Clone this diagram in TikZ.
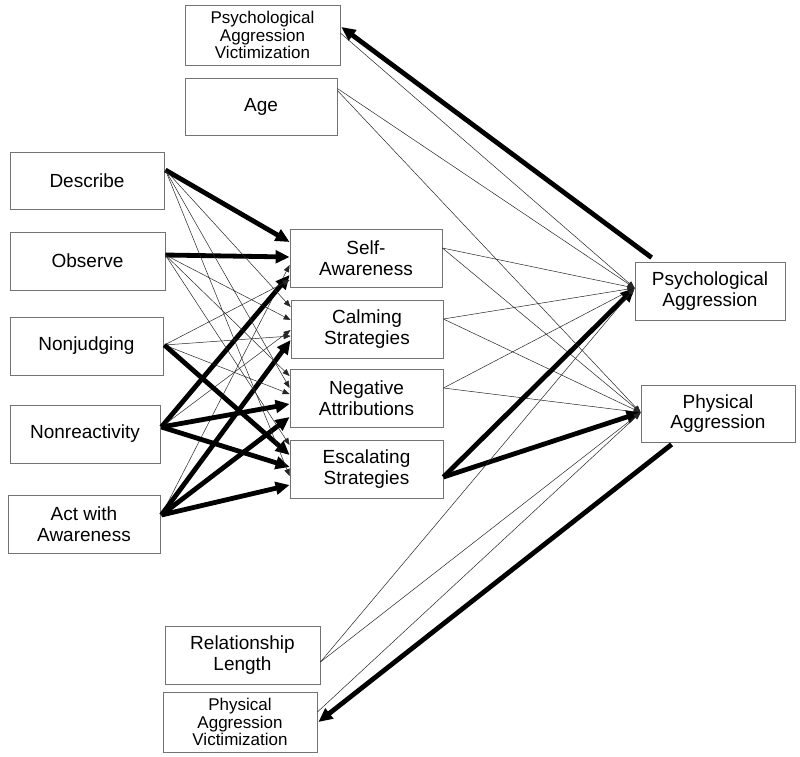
\documentclass[tikz,border=0pt]{standalone}
\usepackage{fontspec}
\setmainfont{Liberation Sans}
\usetikzlibrary{arrows.meta,calc}
\begin{document}
\begin{tikzpicture}[x=1pt,y=-1pt,
  bx/.style 2 args={draw=black!55, line width=0.8pt, fill=white, inner sep=0pt, align=center,
     minimum width=#1pt, minimum height=#2pt, font=\fontsize{19}{20.5}\selectfont},
  sm/.style={font=\fontsize{17}{17.8}\selectfont},
  thick path/.style={line width=4.8pt, -{Triangle[length=14pt,width=12.5pt]}},
  thin path/.style={line width=0.5pt, draw=black!85, -{Triangle[length=7pt,width=5.5pt]}}]
\useasboundingbox (0,0) rectangle (800,756);
\fill[white] (0,0) rectangle (800,756);
% nodes
\node[bx={155}{60}, sm] (PAVt) at (262.5,35) {Psychological\\Aggression\\Victimization};
\node[bx={152}{57}] (Age) at (261,106.5) {Age};
\node[bx={154}{57}] (Desc) at (87,180.5) {Describe};
\node[bx={155}{58}] (Obs) at (87.5,261) {Observe};
\node[bx={153}{58}] (NJ) at (86.5,346) {Nonjudging};
\node[bx={150}{58}] (NR) at (85,434) {Nonreactivity};
\node[bx={152}{58}] (Act) at (84,524) {Act with\\Awareness};
\node[bx={152}{58}] (SA) at (366,258) {Self-\\Awareness};
\node[bx={152}{58}] (Calm) at (367,329) {Calming\\Strategies};
\node[bx={153}{58}] (Neg) at (366.5,398) {Negative\\Attributions};
\node[bx={153}{58}] (Esc) at (366.5,469) {Escalating\\Strategies};
\node[bx={150}{58}] (PsyA) at (710,291) {Psychological\\Aggression};
\node[bx={154}{57}] (PhyA) at (718,413.5) {Physical\\Aggression};
\node[bx={155}{58}] (Rel) at (242.5,655) {Relationship\\Length};
\node[bx={154}{60}, sm] (PAVb) at (240,722) {Physical\\Aggression\\Victimization};
% ports
\coordinate (pD) at ($(Desc.east)+(1,-10.5)$);
\coordinate (pO) at ($(Obs.east)+(0,-6)$);
\coordinate (pJ) at ($(NJ.east)+(1,-1)$);
\coordinate (pR) at ($(NR.east)+(1,-7)$);
\coordinate (pA) at ($(Act.east)+(1,-9)$);
\coordinate (oSA) at ($(SA.east)+(0,-10)$);
\coordinate (oCalm) at ($(Calm.east)+(0,-10)$);
\coordinate (oNeg) at ($(Neg.east)+(0,-10)$);
\coordinate (oEsc) at ($(Esc.east)+(0,8)$);
\coordinate (iPsy) at ($(PsyA.west)+(0,-3)$);
\coordinate (iPhy) at ($(PhyA.west)+(0,-1)$);
% facets -> mediators
\draw[thick path] (pD) -- ($(SA.west)+(0,-16)$);
\draw[thick path] (pO) -- ($(SA.west)+(0,-1)$);
\draw[thin path] (pA) -- ($(SA.west)+(0,7)$);
\draw[thick path] (pR) -- ($(SA.west)+(0,17)$);
\draw[thin path] (pJ) -- ($(SA.west)+(0,22)$);
\draw[thin path] (pD) -- ($(Calm.west)+(0,-22)$);
\draw[thin path] (pO) -- ($(Calm.west)+(0,-9)$);
\draw[thin path] (pR) -- ($(Calm.west)+(0,1)$);
\draw[thin path] (pJ) -- ($(Calm.west)+(0,7)$);
\draw[thick path] (pA) -- ($(Calm.west)+(0,11)$);
\draw[thin path] (pO) -- ($(Neg.west)+(0,-22)$);
\draw[thin path] (pD) -- ($(Neg.west)+(0,-10)$);
\draw[thin path] (pJ) -- ($(Neg.west)+(0,-4)$);
\draw[thick path] (pR) -- ($(Neg.west)+(0,6)$);
\draw[thick path] (pA) -- ($(Neg.west)+(0,19)$);
\draw[thin path] (pO) -- ($(Esc.west)+(0,-24)$);
\draw[thick path] (pJ) -- ($(Esc.west)+(0,-14)$);
\draw[thick path] (pR) -- ($(Esc.west)+(0,-2)$);
\draw[thin path] (pD) -- ($(Esc.west)+(0,7)$);
\draw[thick path] (pA) -- ($(Esc.west)+(0,16)$);
% mediators -> outcomes
\draw[thin path] (oSA) -- (iPsy);
\draw[thin path] (oSA) -- (iPhy);
\draw[thin path] (oCalm) -- (iPsy);
\draw[thin path] (oCalm) -- (iPhy);
\draw[thin path] (oNeg) -- (iPsy);
\draw[thin path] (oNeg) -- (iPhy);
\draw[thick path] (oEsc) -- (iPsy);
\draw[thick path] (oEsc) -- (iPhy);
% covariates
\draw[thin path] ($(PAVt.east)+(0,-2)$) -- (iPsy);
\draw[thin path] ($(Age.east)+(0,-18)$) -- (iPsy);
\draw[thin path] ($(Age.east)+(0,-16)$) -- (iPhy);
\draw[thin path] ($(Rel.east)+(0,7)$) -- (iPsy);
\draw[thin path] ($(Rel.east)+(0,7)$) -- (iPhy);
\draw[thin path] ($(PAVb.east)+(0,-10)$) -- (iPhy);
% outcomes -> victimization
\draw[thick path] ($(PsyA.north west)+(17,-4)$) -- ($(PAVt.east)+(1,-8)$);
\draw[thick path] ($(PhyA.south west)+(31,2)$) -- ($(PAVb.east)+(1,0)$);
\end{tikzpicture}
\end{document}
